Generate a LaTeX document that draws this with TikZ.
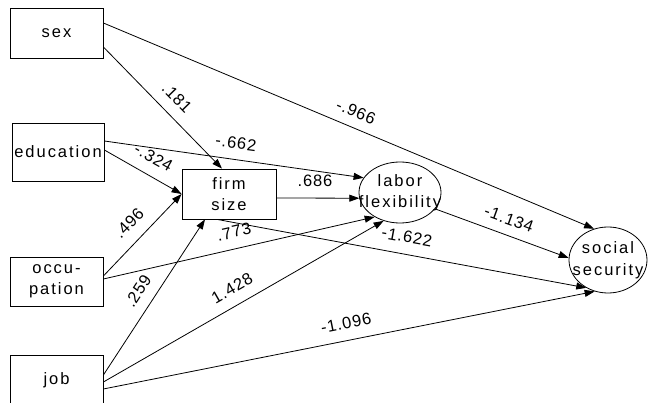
\documentclass[tikz,border=0pt]{standalone}
\usepackage{fontspec}
\setmainfont{Liberation Sans}
\newfontfamily\boxfont[LetterSpace=12]{Liberation Sans}
\newfontfamily\coeffont[LetterSpace=5]{Liberation Sans}
\usetikzlibrary{arrows.meta,shapes.geometric}
% two centred lines that do not widen the surrounding ellipse
\newcommand{\ellipsetext}[2]{\makebox[0pt]{\begin{tabular}{@{}c@{}}#1\\#2\end{tabular}}}
\tikzset{
  var/.style={draw, line width=0.8pt, rectangle, minimum width=93pt,
    minimum height=50pt, inner sep=0pt, align=center,
    font=\boxfont\fontsize{16.5}{21.5}\selectfont},
  latent/.style={draw, line width=0.8pt, ellipse, inner sep=0pt,
    font=\boxfont\fontsize{16.5}{21.5}\selectfont},
  effect/.style={line width=0.8pt, -{Triangle[length=10pt,width=7pt]}},
  coef/.style={inner sep=0pt, font=\coeffont\fontsize{16.5}{20}\selectfont},
}
\begin{document}
\begin{tikzpicture}[x=1pt, y=-1pt]
\useasboundingbox (0,0) rectangle (649,403);

% observed variables
\node[var] (sex) at (56.5,33) {sex};
\node[var, minimum width=92pt, minimum height=58pt] (edu) at (58,152) {education};
\node[var, minimum width=94pt] (firm) at (229,194) {firm\\size};
\node[var, minimum height=49pt] (occ) at (56.5,281.5) {occu-\\pation};
\node[var] (job) at (56.5,380) {job};

% outcome variables
\node[latent, minimum width=82pt, minimum height=61pt] (labor) at (400,192.5)
  {\ellipsetext{labor}{flexibility}};
\node[latent, minimum width=78pt, minimum height=66pt] (social) at (608,260)
  {\ellipsetext{social}{security}};

% paths
\draw[effect] ([yshift=10pt]sex.east) -- (social.114);
\draw[effect] ([yshift=-14pt]sex.east) -- ([xshift=-7pt]firm.north);
\draw[effect] ([yshift=11pt]edu.east) -- (labor.158);
\draw[effect] ([yshift=2pt]edu.east) -- (firm.west);
\draw[effect] ([yshift=-4pt]firm.east) -- (labor.188);
\draw[effect] ([yshift=5.5pt]occ.east) -- (firm.west);
\draw[effect] ([yshift=2.5pt]occ.east) -- (labor.224);
\draw[effect] ([xshift=-12pt]firm.south) -- (social.232);
\draw[effect] ([yshift=5pt]job.east) -- ([xshift=-24pt]firm.south);
\draw[effect] ([yshift=-2pt]job.east) -- (labor.240);
\draw[effect] ([yshift=-9pt]job.east) -- (social.247);
\draw[effect] (labor.-25) -- (social.177);

% path coefficients
\node[coef, rotate=-22.8] (c1) at (356,112) {-.966};
\node[coef, rotate=-45.7] (c2) at (177,98) {.181};
\node[coef, rotate=-7.9] (c3) at (236,143) {-.662};
\node[coef, rotate=-29.4] (c4) at (153.5,157.5) {-.324};
\node[coef] (c5) at (315,181) {.686};
\node[coef, rotate=45.7] (c6) at (129,223) {.496};
\node[coef, rotate=12.8] (c7) at (234,232) {.773};
\node[coef, rotate=56.8] (c8) at (138,291) {.259};
\node[coef, rotate=30] (c9) at (232,288) {1.428};
\node[coef, rotate=-10.4] (c10) at (407,237) {-1.622};
\node[coef, rotate=-20] (c11) at (509,219) {-1.134};
\node[coef, rotate=11.4] (c12) at (346,323) {-1.096};
\end{tikzpicture}
\end{document}
